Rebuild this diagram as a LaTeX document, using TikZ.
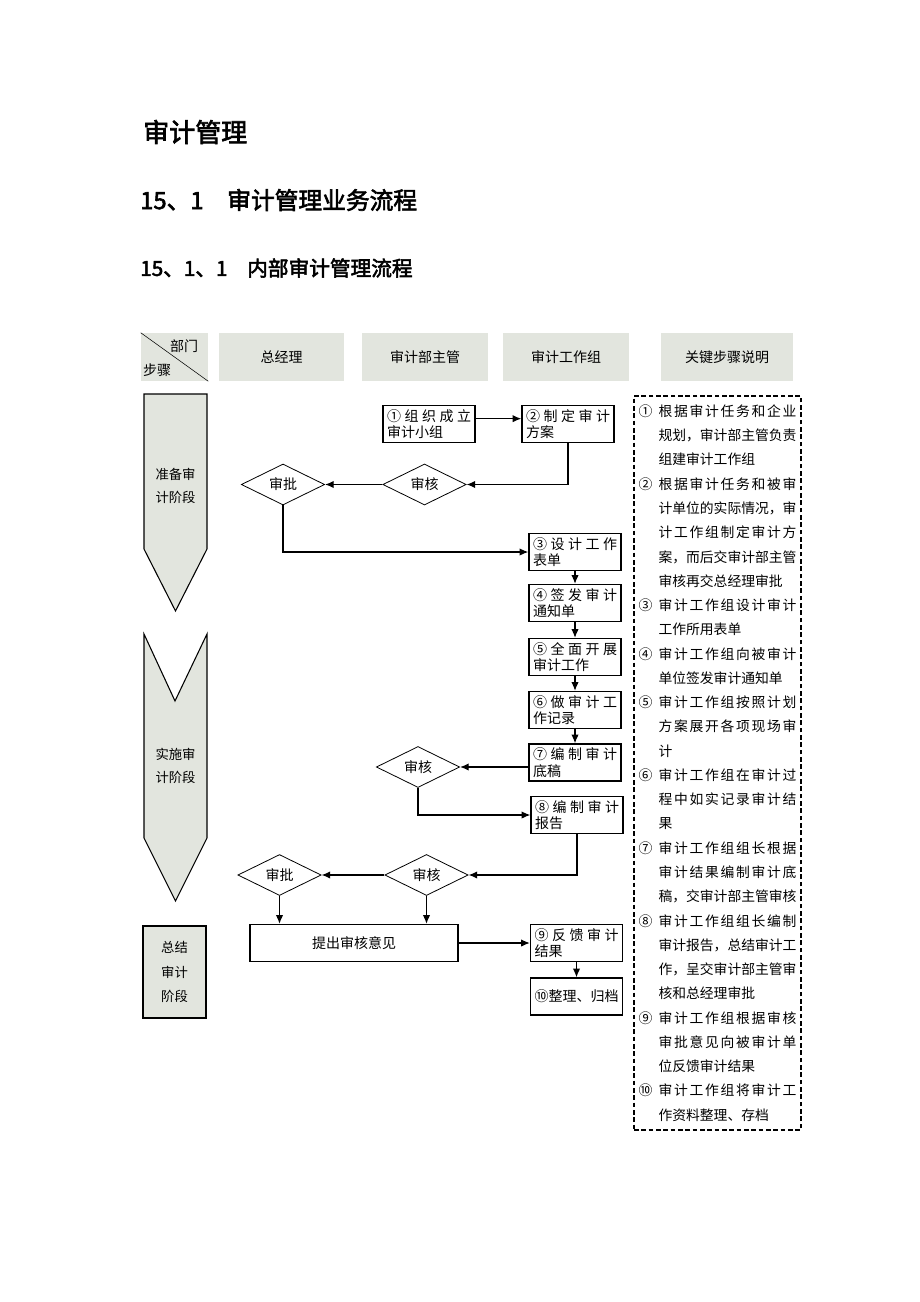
\documentclass[tikz,border=0pt]{standalone}
\usepackage{fontspec}
\setmainfont{Noto Sans CJK SC}
\newfontfamily\headfont[FakeBold=2.5]{Noto Sans CJK SC}
\usetikzlibrary{shapes.geometric,arrows.meta}

\definecolor{stagegray}{HTML}{E2E5DE}

% spread lines
\def\spreadchars#1{#1\spreadnext}
\def\spreadnext#1{\ifx\relax#1\else\hfil#1\expandafter\spreadnext\fi}
\newcommand{\spreadbox}[2]{\makebox[#1][s]{\spreadchars#2\relax}}
\newcommand{\fillrow}[1]{\spreadbox{63pt}{#1}}
\newcommand{\numrow}[2]{\makebox[15pt][l]{#1}\spreadbox{103.5pt}{#2}}
\newcommand{\fullrow}[1]{\hspace*{15pt}\spreadbox{103.5pt}{#1}}
\newcommand{\lastrow}[1]{\hspace*{15pt}#1}

\begin{document}
\begin{tikzpicture}[x=0.75pt,y=-0.75pt]
\tikzstyle{head}=[fill=stagegray, minimum height=36pt, inner sep=0pt, font=\fontsize{10.5}{12}\selectfont]
\tikzstyle{stage}=[draw, fill=stagegray, line width=0.8pt]
\tikzstyle{stagetext}=[align=center, inner sep=0pt, font=\fontsize{10}{17.3}\selectfont]
\tikzstyle{stepbox}=[draw, line width=1pt, minimum width=69pt, minimum height=27.75pt, inner sep=0pt, text width=63pt, align=left, font=\fontsize{10.5}{12.4}\selectfont]
\tikzstyle{check}=[draw, diamond, line width=0.6pt, minimum width=62.5pt, minimum height=27pt, inner sep=0pt, font=\fontsize{10.5}{12}\selectfont]
\tikzstyle{flow}=[line width=0.9pt, -{Latex[length=6.5pt,width=5.5pt]}]
\tikzstyle{notebox}=[draw, dashed, dash pattern=on 3.5pt off 2pt, line width=0.8pt, minimum width=125.25pt, minimum height=550.5pt, inner sep=0pt, text width=118.5pt, align=left, font=\fontsize{10.35}{18.2}\selectfont]

\useasboundingbox (0,0) rectangle (920,1302);

% headings
\draw (143,132) node[anchor=west, inner sep=0pt, font=\headfont\fontsize{19.5}{20}\selectfont] (title) {审计管理};
\draw (140,200) node[anchor=west, inner sep=0pt, font=\headfont\fontsize{17.8}{18}\selectfont] (sec) {\makebox[65.25pt][l]{15、1}审计管理业务流程};
\draw (140,268) node[anchor=west, inner sep=0pt, font=\headfont\fontsize{15.5}{16}\selectfont] (subsec) {\makebox[80.25pt][l]{15、1、1}内部审计管理流程};

% header row
\draw (174.5,357) node[head, minimum width=50.25pt] (hd0) {};
\draw (hd0.north west) -- (hd0.south east);
\draw (184,346) node[inner sep=0pt, font=\fontsize{10.5}{12}\selectfont] (dept) {部门};
\draw (157,370) node[inner sep=0pt, font=\fontsize{10.5}{12}\selectfont] (steps) {步骤};
\draw (281.5,357) node[head, minimum width=93.75pt] (hd1) {总经理};
\draw (425,357) node[head, minimum width=94.5pt] (hd2) {审计部主管};
\draw (566,357) node[head, minimum width=94.5pt] (hd3) {审计工作组};
\draw (727,357) node[head, minimum width=99pt] (hd4) {关键步骤说明};

% stages
\draw[stage] (144,394) -- (207,394) -- (207,549) -- (175.5,611) -- (144,549) -- cycle;
\draw (175.5,486) node[stagetext] (st1) {准备审\\计阶段};
\draw[stage] (144,634) -- (175,701) -- (207,634) -- (207,838) -- (175.5,901) -- (144,838) -- cycle;
\draw (175.5,766) node[stagetext] (st2) {实施审\\计阶段};
\draw (174.5,972) node[stage, minimum width=47.25pt, minimum height=69pt, inner sep=0pt, align=center, font=\fontsize{10}{18.4}\selectfont] (st3) {总结\\审计\\阶段};

% steps
\draw (429,424) node[stepbox] (b1) {\fillrow{①组织成立}\\审计小组};
\draw (568,424) node[stepbox] (b2) {\fillrow{②制定审计}\\方案};
\draw (424.5,484.5) node[check] (sh1) {审核};
\draw (283,484.5) node[check] (sp1) {审批};
\draw (575,552) node[stepbox] (b3) {\fillrow{③设计工作}\\表单};
\draw (575,603) node[stepbox] (b4) {\fillrow{④签发审计}\\通知单};
\draw (575,657) node[stepbox] (b5) {\fillrow{⑤全面开展}\\审计工作};
\draw (575,710) node[stepbox] (b6) {\fillrow{⑥做审计工}\\作记录};
\draw (575,762.5) node[stepbox] (b7) {\fillrow{⑦编制审计}\\底稿};
\draw (418,767) node[check] (sh2) {审核};
\draw (577,815) node[stepbox] (b8) {\fillrow{⑧编制审计}\\报告};
\draw (426.5,875) node[check] (sh3) {审核};
\draw (279.5,875) node[check] (sp3) {审批};
\draw (354,943) node[draw, line width=1pt, minimum width=156pt, minimum height=27.75pt, inner sep=0pt, font=\fontsize{10.5}{12.4}\selectfont] (opinion) {提出审核意见};
\draw (576.5,943) node[stepbox] (b9) {\fillrow{⑨反馈审计}\\结果};
\draw (576.5,996.5) node[stepbox, align=center] (b10) {⑩整理、归档};

\draw[flow] ([yshift=4pt]b1.east) -- ([yshift=4pt]b2.west);
\draw[flow] (b2.south) |- (sh1.east);
\draw[flow] (sh1.west) -- (sp1.east);
\draw[flow] (sp1.south) |- (b3.west);
\draw[flow] (b3) -- (b4);
\draw[flow] (b4) -- (b5);
\draw[flow] (b5) -- (b6);
\draw[flow] (b6) -- (b7);
\draw[flow] (b7.west |- sh2.east) -- (sh2.east);
\draw[flow] (sh2.south) |- (b8.west);
\draw[flow] (b8.south) |- (sh3.east);
\draw[flow] (sh3.west) -- (sp3.east);
\draw[flow] (sp3.south) -- (sp3.south |- opinion.north);
\draw[flow] (sh3.south) -- (sh3.south |- opinion.north);
\draw[flow] (opinion.east) -- (b9.west);
\draw[flow] (b9) -- (b10);

% key steps
\draw (717.5,763) node[notebox] (notes) {%
\numrow{①}{根据审计任务和企业}\\
\fullrow{规划，审计部主管负责}\\
\lastrow{组建审计工作组}\\
\numrow{②}{根据审计任务和被审}\\
\fullrow{计单位的实际情况，审}\\
\fullrow{计工作组制定审计方}\\
\fullrow{案，而后交审计部主管}\\
\lastrow{审核再交总经理审批}\\
\numrow{③}{审计工作组设计审计}\\
\lastrow{工作所用表单}\\
\numrow{④}{审计工作组向被审计}\\
\lastrow{单位签发审计通知单}\\
\numrow{⑤}{审计工作组按照计划}\\
\fullrow{方案展开各项现场审}\\
\lastrow{计}\\
\numrow{⑥}{审计工作组在审计过}\\
\fullrow{程中如实记录审计结}\\
\lastrow{果}\\
\numrow{⑦}{审计工作组组长根据}\\
\fullrow{审计结果编制审计底}\\
\fullrow{稿，交审计部主管审核}\\
\numrow{⑧}{审计工作组组长编制}\\
\fullrow{审计报告，总结审计工}\\
\fullrow{作，呈交审计部主管审}\\
\lastrow{核和总经理审批}\\
\numrow{⑨}{审计工作组根据审核}\\
\fullrow{审批意见向被审计单}\\
\lastrow{位反馈审计结果}\\
\numrow{⑩}{审计工作组将审计工}\\
\lastrow{作资料整理、存档}};
\end{tikzpicture}
\end{document}
